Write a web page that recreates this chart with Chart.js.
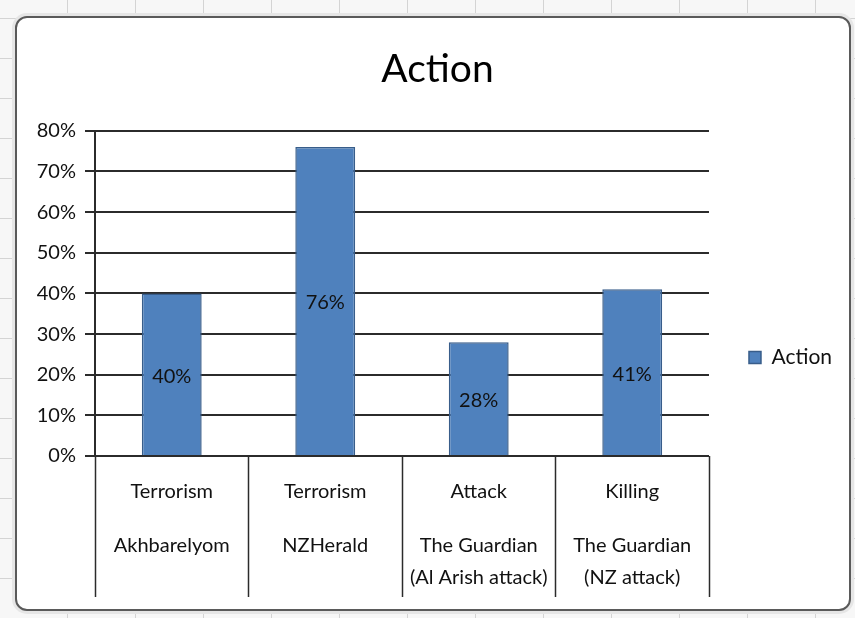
<!DOCTYPE html>
<html>
<head>
<meta charset="utf-8">
<script src="https://cdn.jsdelivr.net/npm/chart.js@4/dist/chart.umd.min.js"></script>
<style>
  html, body { margin: 0; padding: 0; }
  body {
    width: 855px; height: 618px; position: relative; overflow: hidden;
    background-color: #f7f7f7;
    background-image:
      repeating-linear-gradient(90deg, transparent 0 67px, #d4d4d4 67px 68px),
      repeating-linear-gradient(0deg, transparent 0 39px, #d4d4d4 39px 40px);
  }
  #frame {
    position: absolute; left: 15px; top: 16px; width: 832px; height: 591px;
    background: #fff; border: 2px solid #5a5a5a; border-radius: 12px;
    box-shadow: 0 0 0 3px #e6e6e6;
  }
  #chart { position: absolute; left: 0; top: 0; }
</style>
</head>
<body>
<div id="frame"></div>
<canvas id="chart" width="855" height="618"></canvas>
<script>
  // ---------- data ----------
  const topLabels = ["Terrorism", "Terrorism", "Attack", "Killing"];
  const sourceLabels = [
    ["Akhbarelyom"],
    ["NZHerald"],
    ["The Guardian", "(Al Arish attack)"],
    ["The Guardian", "(NZ attack)"],
  ];
  const actionValues = [40, 76, 28, 41];
  const yTicks = [0, 10, 20, 30, 40, 50, 60, 70, 80];

  const FONT = "Lato, 'Open Sans', sans-serif";
  const LINE = "#2b2b2b";

  // value labels centred inside each bar
  const barLabels = {
    id: "barLabels",
    afterDatasetsDraw(chart) {
      const ctx = chart.ctx;
      const meta = chart.getDatasetMeta(0);
      ctx.save();
      ctx.font = "20px " + FONT;
      ctx.fillStyle = "#111";
      ctx.textAlign = "center";
      ctx.textBaseline = "middle";
      meta.data.forEach(function (bar, i) {
        ctx.fillText(actionValues[i] + "%", bar.x, (bar.y + bar.base) / 2 + 2);
      });
      ctx.restore();
    },
  };

  // vertical dividers between categories, through both label rows
  const dividers = {
    id: "dividers",
    afterDraw(chart) {
      const x = chart.scales.x;
      const x2 = chart.scales.x2;
      const n = topLabels.length;
      const step = x.getPixelForValue(1) - x.getPixelForValue(0);
      const ctx = chart.ctx;
      ctx.save();
      ctx.strokeStyle = LINE;
      ctx.lineWidth = 1.5;
      for (let i = 0; i <= n; i++) {
        const px = Math.round(x.getPixelForValue(0) - step / 2 + i * step) + 0.5;
        ctx.beginPath();
        ctx.moveTo(px, chart.chartArea.bottom);
        ctx.lineTo(px, x2.bottom);
        ctx.stroke();
      }
      ctx.restore();
    },
  };

  new Chart(document.getElementById("chart"), {
    type: "bar",
    data: {
      labels: topLabels,
      datasets: [
        {
          label: "Action",
          data: actionValues,
          backgroundColor: "#4f81bd",
          borderColor: "#385d8a",
          borderWidth: 1.5,
          categoryPercentage: 1,
          barPercentage: 0.39,
          xAxisID: "x",
        },
      ],
    },
    options: {
      responsive: false,
      animation: false,
      layout: { padding: { left: 33, right: 13, top: 0, bottom: 21 } },
      scales: {
        y: {
          min: 0,
          max: 80,
          afterBuildTicks: function (scale) {
            scale.ticks = yTicks.map(function (v) { return { value: v }; });
          },
          afterFit: function (scale) { scale.width = 62; },
          ticks: {
            callback: function (v) { return v + "%"; },
            color: "#111",
            font: { family: FONT, size: 20 },
            padding: 9,
          },
          grid: { color: LINE, lineWidth: 2, tickLength: 10 },
          border: { color: LINE, width: 2 },
        },
        x: {
          position: "bottom",
          afterFit: function (scale) { scale.height = 60; },
          ticks: {
            color: "#111",
            font: { family: FONT, size: 20 },
            padding: 24,
            maxRotation: 0,
            autoSkip: false,
          },
          grid: { display: false, drawTicks: false },
          border: { color: LINE, width: 2 },
        },
        x2: {
          type: "category",
          position: "bottom",
          labels: sourceLabels,
          offset: true,
          afterFit: function (scale) { scale.height = 81; },
          ticks: {
            color: "#111",
            font: { family: FONT, size: 20, lineHeight: 1.6 },
            padding: 14,
            maxRotation: 0,
            autoSkip: false,
          },
          grid: { display: false, drawTicks: false },
          border: { display: false },
        },
      },
      plugins: {
        title: {
          display: true,
          text: "Action",
          color: "#000",
          font: { family: FONT, size: 39, weight: "normal" },
          padding: { top: 46, bottom: 38 },
        },
        legend: {
          position: "right",
          title: { display: true, text: " ", font: { size: 10, lineHeight: 1.2 }, padding: { top: 106, bottom: 0 } },
          labels: {
            boxWidth: 12,
            boxHeight: 12,
            padding: 40,
            color: "#111",
            font: { family: FONT, size: 21 },
          },
        },
        tooltip: { enabled: false },
      },
    },
    plugins: [barLabels, dividers],
  });
</script>
</body>
</html>
